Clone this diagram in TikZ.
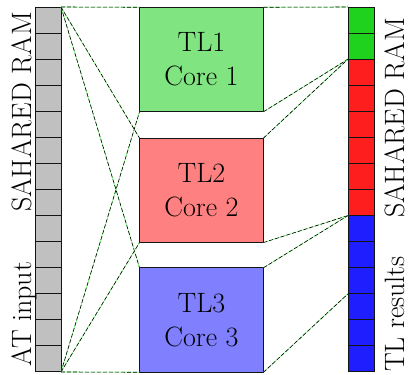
\documentclass[tikz,border=0pt]{standalone}
\usepackage{tikz}
\definecolor{ramgray}{RGB}{192,192,192}
\definecolor{resgreen}{RGB}{30,210,30}
\definecolor{resred}{RGB}{255,30,30}
\definecolor{resblue}{RGB}{30,30,255}
\definecolor{coreone}{RGB}{128,228,128}
\definecolor{coretwo}{RGB}{255,128,128}
\definecolor{corethree}{RGB}{128,128,255}
\definecolor{celledge}{RGB}{20,20,20}
\tikzstyle{cell} = [draw=celledge, line width=1pt, rectangle, inner sep=0pt,
outer sep=0pt, minimum width=26pt, minimum height=26.07pt]
\tikzstyle{corebox} = [draw=celledge, line width=0.9pt, rectangle, inner sep=0pt,
outer sep=0pt, minimum width=124pt, minimum height=104.5pt, align=center,
font=\fontsize{28}{34}\selectfont]
\tikzstyle{link} = [draw=black, line width=0.6pt, dash pattern=on 4pt off 2pt,
preaction={draw=green!55, solid, line width=0.6pt}]
\tikzstyle{sidelabel} = [rotate=90, inner sep=0pt, anchor=base,
font=\fontsize{28}{32}\selectfont]

\begin{document}
\begin{tikzpicture}[x=1pt, y=-1pt]
		\useasboundingbox (0,0) rectangle (408,375);
		% shared RAM columns
		\foreach \i in {1,...,14}{
			\node [cell, fill=ramgray] (l\i) at (48, {20.04+(\i-1)*26.07}) {};
		}
		\foreach \i in {1,2}{
			\node [cell, fill=resgreen] (r\i) at (361, {20.04+(\i-1)*26.07}) {};
		}
		\foreach \i in {3,...,8}{
			\node [cell, fill=resred] (r\i) at (361, {20.04+(\i-1)*26.07}) {};
		}
		\foreach \i in {9,...,14}{
			\node [cell, fill=resblue] (r\i) at (361, {20.04+(\i-1)*26.07}) {};
		}
		% cores
		\node [corebox, fill=coreone] (tl1) at (201.5, 59.5) {TL1\\Core 1};
		\node [corebox, fill=coretwo] (tl2) at (201.5, 190.3) {TL2\\Core 2};
		\node [corebox, fill=corethree] (tl3) at (201.5, 320) {TL3\\Core 3};
		% reading the input
		\draw [link] (l1.north east) -- (tl1.north west);
		\draw [link] (l1.north east) -- (tl2.north west);
		\draw [link] (l1.north east) -- (tl3.north west);
		\draw [link] (l14.south east) -- (tl1.south west);
		\draw [link] (l14.south east) -- (tl2.south west);
		\draw [link] (l14.south east) -- (tl3.south west);
		% writing the results
		\draw [link] (tl1.north east) -- (r1.north west);
		\draw [link] (tl1.south east) -- (r2.south west);
		\draw [link] (tl2.north east) -- (r2.south west);
		\draw [link] (tl2.south east) -- (r8.south west);
		\draw [link] (tl3.north east) -- (r8.south west);
		\draw [link] (tl3.south east) -- (r11.south west);
		% labels
		\node [sidelabel] (ramleft) at (31, 112) {SAHARED RAM};
		\node [sidelabel] (inleft) at (31, 314) {AT input};
		\node [sidelabel] (ramright) at (404.5, 118) {SAHARED RAM};
		\node [sidelabel] (resright) at (404.5, 314) {TL results};
\end{tikzpicture}
\end{document}
